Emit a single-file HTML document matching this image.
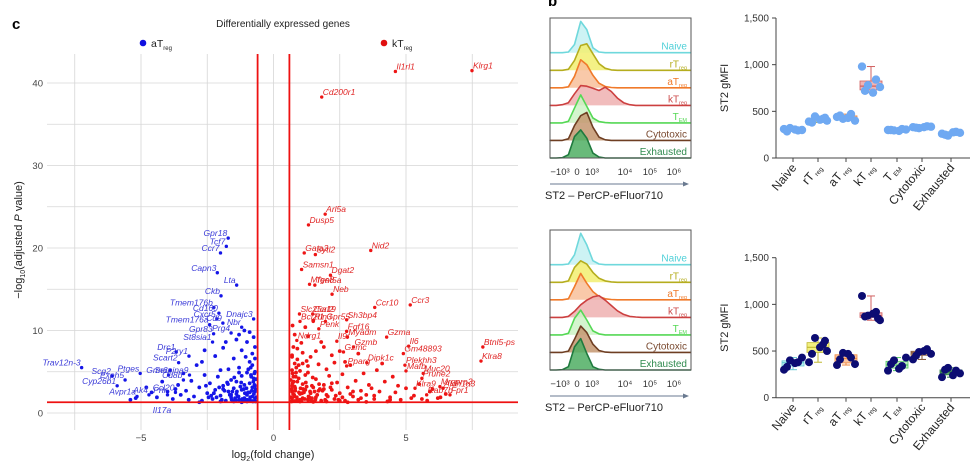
<!DOCTYPE html>
<html><head><meta charset="utf-8"><style>
html,body{margin:0;padding:0;background:#fff;}
svg{display:block;font-family:"Liberation Sans",sans-serif;}
</style></head><body>
<svg id="fig" width="973" height="469" viewBox="0 0 973 469" xmlns="http://www.w3.org/2000/svg">
<g id="volcano"></g>
<g id="hists"></g>
<g id="boxes"></g>
</svg>
<script>
// ---------- Volcano data ----------
const blueGenes = ["Gpr18","Tcf7","Ccr7","Capn3","Lta","Ckb","Tmem176b","Cd160","Cxcr5","Dnajc3","Tmem176a","Cd9","Nbr","Gpr83","Prg4","St8sia1","Drc1","P2ry1","Scart2","Trav12n-3","Scg2","Ptges","Grm6","Serpina9","Exph5","Cd8b","Cyp26b1","Ak4","Avpr1a","Prlr","Ccl20"];
const blueFC = [-1.71,-1.78,-2.0,-2.12,-1.39,-1.98,-2.25,-2.06,-2.14,-0.75,-2.41,-1.91,-1.2,-2.26,-1.6,-2.3,-3.67,-3.19,-3.58,-7.24,-6.1,-5.03,-3.96,-3.17,-5.6,-3.4,-5.9,-4.7,-5.15,-4.0,-3.7];
const blueP = [21.2,20.2,19.4,17.0,15.5,14.2,12.8,12.1,11.4,11.4,10.7,10.9,10.4,9.6,9.7,8.6,7.4,6.9,6.1,5.5,4.5,4.8,4.6,4.6,4.0,4.0,3.3,2.2,2.0,2.2,2.5];
const redGenes = ["Il1rl1","Klrg1","Cd200r1","Arl5a","Dusp5","Nid2","Gata3","Sytl2","Samsn1","Dgat2","Mfge8","Tent5a","Neb","Ccr3","Ccr10","Ccrl2","Slc25a19","Gpr55","Sh3bp4","Rln3","Bcl2l1","Penk","Fgf16","Ndrg1","Il9r","Myadm","Gzma","Il6","Gzmb","Btnl5-ps","Gm48893","Gzmc","Klra8","Dipk1c","Plekhh3","Pparg","Mafb","Muc20","Prune2","Mrgpra3","Klra9","Aldh1a3","Rab7b","Fpr1"];
const redFC = [4.6,7.49,1.82,1.95,1.32,3.67,1.16,1.58,1.06,2.15,1.36,1.56,2.21,5.16,3.82,1.48,0.98,1.96,2.76,1.5,1.0,1.71,2.76,0.88,2.39,2.79,4.27,5.1,3.02,7.9,4.9,2.64,7.83,3.52,4.96,2.76,5.0,5.65,5.6,6.28,5.34,6.4,5.78,6.66];
const redP = [41.4,41.5,38.3,24.1,22.8,19.7,19.4,19.2,17.4,16.7,15.6,15.5,14.4,13.1,12.8,12.0,12.0,11.1,11.3,11.1,11.1,10.2,9.9,8.8,8.7,9.2,9.2,8.1,8.0,8.0,7.2,7.4,6.3,6.1,5.8,5.7,5.1,4.8,4.2,3.2,3.0,3.0,2.2,2.2];
const blueCloudFC = [-0.7,-0.8,-0.9,-0.7,-0.8,-1.0,-1.1,-0.9,-0.75,-0.7,-0.8,-0.7,-1.2,-1.3,-1.4,-1.1,-1.5,-1.6,-1.2,-1.0,-1.7,-1.8,-1.9,-2.0,-1.6,-1.3,-0.9,-0.8,-0.7,-0.75,-0.9,-1.0,-1.2,-1.4,-1.1,-1.5,-1.7,-2.1,-2.2,-2.3,-2.4,-2.5,-2.6,-2.7,-2.8,-2.9,-3.0,-3.1,-3.2,-3.3,-3.4,-3.5,-3.6,-3.8,-4.0,-4.2,-4.4,-4.6,-3.9,-2.7,-2.2,-1.9,-1.3,-1.8,-2.6,-1.4,-1.0,-1.2,-2.0,-2.8,-5.4,-5.2,-3.7,-4.8,-2.0,-1.5,-0.85,-0.95,-1.05,-0.72,-0.65,-0.68,-0.9,-1.15,-1.35,-0.78,-1.6,-2.15,-1.75,-0.66,
 -0.7,-0.74,-0.82,-0.88,-0.96,-1.02,-1.08,-1.18,-1.25,-1.32,-1.45,-1.55,-1.65,-1.85,-1.95,-2.05,-2.35,-2.45,-0.7,-0.76,-0.84,-0.92,-1.12,-1.22,-1.38,-1.48,-1.58,-1.72,-2.25,-2.55,-0.72,-0.86,-1.0,-1.3,-0.68,-0.8,-0.94,-1.06,-1.42,-1.9];
const blueCloudP = [1.5,2.0,1.6,2.6,3.1,2.2,1.8,3.6,4.2,5.0,5.8,6.6,2.8,1.6,2.3,3.4,3.0,1.9,4.5,4.9,2.6,1.5,3.3,2.1,4.0,5.5,6.2,7.2,8.0,9.2,9.8,8.6,7.6,8.9,10.0,6.6,5.3,4.4,2.8,1.7,3.6,2.4,4.6,1.5,3.1,5.8,2.0,3.9,1.6,2.7,4.8,2.2,3.4,1.7,2.6,3.8,1.9,2.5,5.2,6.2,6.9,7.9,9.5,8.6,7.6,3.8,1.4,1.3,1.4,1.3,1.6,1.8,2.9,3.1,5.2,1.4,4.6,5.3,6.8,3.4,1.9,2.9,2.5,1.5,2.0,1.4,2.2,1.9,3.7,4.1,
 1.8,2.3,2.7,1.9,2.5,3.0,2.4,1.7,3.2,2.0,1.8,2.6,2.2,2.7,1.6,3.1,2.1,1.9,3.3,3.8,4.4,1.5,2.9,3.7,2.6,4.3,1.6,3.5,2.4,3.3,4.8,5.5,1.6,4.9,1.4,1.45,1.5,1.55,1.5,2.9];
const redCloudFC = [0.7,0.8,0.9,0.7,0.8,1.0,1.1,0.9,0.75,0.7,0.8,0.7,0.75,0.72,0.8,1.2,1.3,1.4,1.1,1.5,1.6,1.2,1.0,1.7,1.8,1.9,2.0,1.6,1.3,0.9,1.1,1.4,1.7,2.1,2.2,2.3,2.4,2.5,2.6,2.7,2.8,2.9,3.0,3.1,3.2,3.3,3.4,3.5,3.6,3.8,4.0,4.2,4.4,4.6,4.8,5.0,5.3,5.6,5.9,6.2,6.5,3.9,2.7,2.2,1.9,1.3,1.8,2.5,1.2,1.5,1.0,1.5,2.0,2.8,3.5,4.3,4.7,3.7,2.0,0.85,0.95,1.05,0.72,1.25,1.6,2.3,3.2,4.1,4.5,5.5,6.0,0.66,0.68,0.78,0.88,1.15,1.35,0.65,0.95,1.45,1.75,2.05,2.45,0.7,0.82,
 0.7,0.74,0.82,0.88,0.96,1.02,1.08,1.18,1.25,1.32,1.45,1.55,1.65,1.85,1.95,2.15,2.35,2.6,2.9,3.3,0.7,0.76,0.84,0.92,1.12,1.22,1.38,1.48,1.58,1.72,0.72,0.86,1.0,1.3,0.68,0.8,0.94,1.06,1.42,1.9,2.2,2.5,3.0,3.8,4.4,5.2,5.8,6.3,1.1,0.9];
const redCloudP = [1.5,2.0,1.6,2.6,3.2,2.3,1.8,3.8,4.4,5.2,6.0,7.0,8.0,10.6,9.5,2.8,1.6,2.4,3.5,3.1,1.9,4.6,5.1,2.7,1.5,3.4,2.2,4.1,5.7,6.5,7.3,6.8,5.9,4.5,2.8,1.7,3.7,2.4,4.7,1.5,3.1,5.8,2.0,3.9,1.6,2.7,4.8,2.2,3.4,1.7,2.6,3.8,1.9,2.5,1.6,3.0,2.1,1.7,2.6,1.8,2.3,5.2,6.2,7.0,8.0,9.3,8.6,7.5,10.4,11.2,1.4,1.35,1.4,1.3,1.35,1.4,3.3,3.0,5.3,4.9,5.8,8.5,3.6,6.3,7.5,6.1,7.2,6.0,4.4,3.5,2.9,1.9,2.9,2.2,1.5,2.5,1.9,4.0,4.2,3.3,2.9,2.0,1.6,6.8,3.0,
 1.8,2.3,2.7,1.9,2.5,3.0,2.4,1.7,3.2,2.0,1.8,2.6,2.2,2.7,1.6,3.1,2.1,1.9,2.3,1.8,3.3,3.8,4.4,1.5,2.9,3.7,2.6,4.3,1.6,3.5,4.8,5.5,1.6,4.9,1.4,1.45,1.5,1.55,1.5,2.9,3.6,1.5,2.6,2.1,1.6,1.8,1.5,1.9,6.0,7.8];
const xTicks = [-5,0,5];
const yTicks = [0,10,20,30,40];

// ---------- Histogram data ----------
const histLabels = ["Naive","rT","aT","kT","T","Cytotoxic","Exhausted"];
const histSubs = ["","reg","reg","reg","EM","",""];
const histTopNaive = [0,0,0,0.02,0.25,0.95,0.7,0.15,0.02,0,0,0,0,0,0,0,0,0,0,0,0,0,0,0];
const histTopRT = [0,0,0,0.03,0.3,0.75,0.8,0.5,0.2,0.06,0.01,0,0,0,0,0,0,0,0,0,0,0,0,0];
const histTopAT = [0,0,0,0.03,0.35,0.85,0.7,0.38,0.14,0.04,0.01,0,0,0,0,0,0,0,0,0,0,0,0,0];
const histTopKT = [0,0,0.02,0.08,0.35,0.6,0.58,0.52,0.45,0.55,0.42,0.22,0.08,0.02,0,0,0,0,0,0,0,0,0,0];
const histTopTEM = [0,0,0,0.05,0.45,0.85,0.5,0.15,0.04,0.01,0,0,0,0,0,0,0,0,0,0,0,0,0,0];
const histTopCyto = [0,0,0,0.05,0.45,0.75,0.85,0.4,0.1,0.02,0,0,0,0,0,0,0,0,0,0,0,0,0,0];
const histTopExh = [0,0,0.01,0.1,0.65,0.85,0.6,0.15,0.03,0,0,0,0,0,0,0,0,0,0,0,0,0,0,0];
const histBotNaive = [0,0,0,0.02,0.3,0.95,0.6,0.12,0.02,0,0,0,0,0,0,0,0,0,0,0,0,0,0,0];
const histBotRT = [0,0,0,0.04,0.45,0.65,0.55,0.3,0.12,0.04,0.01,0,0,0,0,0,0,0,0,0,0,0,0,0];
const histBotAT = [0,0,0,0.03,0.4,0.8,0.5,0.25,0.1,0.03,0.01,0,0,0,0,0,0,0,0,0,0,0,0,0];
const histBotKT = [0,0,0,0.03,0.18,0.38,0.52,0.62,0.66,0.52,0.36,0.2,0.09,0.03,0.01,0,0,0,0,0,0,0,0,0];
const histBotTEM = [0,0,0,0.05,0.5,0.75,0.45,0.12,0.03,0,0,0,0,0,0,0,0,0,0,0,0,0,0,0];
const histBotCyto = [0,0,0,0.04,0.4,0.8,0.6,0.25,0.06,0.01,0,0,0,0,0,0,0,0,0,0,0,0,0,0];
const histBotExh = [0,0,0.01,0.1,0.7,0.95,0.5,0.1,0.02,0,0,0,0,0,0,0,0,0,0,0,0,0,0,0];
const histTicks = ["−10³","0","10³","10⁴","10⁵","10⁶"];

// ---------- Box plot data ----------
const boxCats = ["Naive","rT","aT","kT","T","Cytotoxic","Exhausted"];
const boxSubs = ["","reg","reg","reg","EM","",""];
const boxYTicks = [0,500,1000,1500];
const boxYTickLabels = ["0","500","1,000","1,500"];
const topNaive=[310,295,320,300,285,305], topRT=[390,420,445,400,380,410,430], topAT=[440,470,420,400,455,430], topKT=[980,840,780,760,720,700], topTEM=[300,310,295,305,300,290], topCyto=[330,340,320,335,325,330], topExh=[260,280,240,270,250,275];
const botNaive=[300,380,400,430,330,370], botRT=[380,570,640,500,470,540,610], botAT=[350,430,480,360,410,470], botKT=[1090,920,880,830,870,900,850], botTEM=[290,340,400,430,360,310], botCyto=[410,520,490,470,450,500], botExh=[220,290,320,260,300,240];

const NS="http://www.w3.org/2000/svg";
function mk(parent, tag, attrs, text){const e=document.createElementNS(NS,tag);for(const k in attrs)e.setAttribute(k,attrs[k]);if(text!==undefined)e.textContent=text;parent.appendChild(e);return e;}

// ---------- Volcano ----------
(function(){
const g=document.getElementById('volcano');
const X=v=>273.5+v*26.5, Y=v=>413-v*8.25;
const L=47,R=518,T=54,B=430;
let t=mk(g,'text',{x:12,y:29,'font-size':15,'font-weight':'bold'},'c');

t=mk(g,'text',{x:283,y:27,'font-size':10,'text-anchor':'middle',fill:'#222'},'Differentially expressed genes');

let lg=mk(g,'g',{});
mk(lg,'circle',{cx:143,cy:43,r:3.3,fill:'#1010e0'});
let lt=mk(lg,'text',{x:151,y:47,'font-size':10.5,fill:'#222'});lt.innerHTML='aT<tspan font-size="6" dy="3">reg</tspan>';
lg=mk(g,'g',{});
mk(lg,'circle',{cx:384,cy:43,r:3.3,fill:'#e01010'});
lt=mk(lg,'text',{x:392,y:47,'font-size':10.5,fill:'#222'});lt.innerHTML='kT<tspan font-size="6" dy="3">reg</tspan>';
const grid=mk(g,'g',{stroke:'#d6d6d6','stroke-width':0.8});
for(let v=-7.5;v<=7.5;v+=2.5)mk(grid,'line',{x1:X(v),x2:X(v),y1:T,y2:B});
for(let v=0;v<=40;v+=5)mk(grid,'line',{x1:L,x2:R,y1:Y(v),y2:Y(v)});
yTicks.forEach(v=>{const e=mk(g,'text',{x:43,y:Y(v)+3.5,'font-size':9.5,'text-anchor':'end',fill:'#444'},String(v));});
xTicks.forEach(v=>{const e=mk(g,'text',{x:X(v),y:441,'font-size':9.5,'text-anchor':'middle',fill:'#444'},v<0?'−'+(-v):String(v));});
let at=mk(g,'text',{x:273,y:458,'font-size':11,'text-anchor':'middle',fill:'#222'});at.innerHTML='log<tspan font-size="7" dy="3">2</tspan><tspan dy="-3">(fold change)</tspan>';

at=mk(g,'text',{transform:'translate(22,240) rotate(-90)','font-size':11,'text-anchor':'middle',fill:'#222'});at.innerHTML='−log<tspan font-size="7" dy="3">10</tspan><tspan dy="-3">(adjusted </tspan><tspan font-style="italic">P</tspan> value)';

const pts=mk(g,'g',{});
blueCloudFC.forEach((v,i)=>{const c=mk(pts,'circle',{cx:X(v),cy:Y(blueCloudP[i]),r:1.9,fill:'#1515e8'});

});
redCloudFC.forEach((v,i)=>{const c=mk(pts,'circle',{cx:X(v),cy:Y(redCloudP[i]),r:1.9,fill:'#ee1515'});

});
blueGenes.forEach((n,i)=>{const c=mk(pts,'circle',{cx:X(blueFC[i]),cy:Y(blueP[i]),r:1.7,fill:'#1515e8'});


const e=mk(pts,'text',{x:X(blueFC[i])-1,y:Y(blueP[i])-2,'font-size':8.5,'font-style':'italic','text-anchor':'end',fill:'#3a3ad8'},n);

});
redGenes.forEach((n,i)=>{const c=mk(pts,'circle',{cx:X(redFC[i]),cy:Y(redP[i]),r:1.7,fill:'#ee1515'});


const e=mk(pts,'text',{x:X(redFC[i])+1,y:Y(redP[i])-2,'font-size':8.5,'font-style':'italic',fill:'#e02525'},n);

});
const il=mk(g,'text',{x:162,y:413,'font-size':8.5,'font-style':'italic','text-anchor':'middle',fill:'#3a3ad8'},'Il17a');

const th=mk(g,'g',{stroke:'#ee1111','stroke-width':1.8});
mk(th,'line',{x1:X(-0.6),x2:X(-0.6),y1:T,y2:B});
mk(th,'line',{x1:X(0.6),x2:X(0.6),y1:T,y2:B});
mk(th,'line',{x1:L,x2:R,y1:Y(1.3),y2:Y(1.3)});
})();

// ---------- Histograms ----------
(function(){
const g=document.getElementById('hists');
const lab=mk(g,'text',{x:548,y:6,'font-size':15,'font-weight':'bold'},'b');

const strokes=['#6fd8dc','#b5ad1e','#f07a2a','#cc4040','#55d855','#6e3e22','#1f7a3e'];
const fills=['#c4f1f2','#f2ef70','#f8c09a','#eeb0b0','#cdf3c6','#c49670','#4fae63'];
const labCols=['#4fd0d8','#b5ad1e','#f07a2a','#cc4b4b','#55d855','#7a4a30','#2f8a4e'];
function panel(top,data,name){
 const p=mk(g,'g',{});
 const L=550,R=691,rowH=17.55,base0=top+34.7;
 const n=data[0].length, step=(R-L)/(n-1), scale=33;
 data.forEach((arr,r)=>{
  const b=base0+r*rowH;
  let d='M'+L+','+b;
  arr.forEach((v,i)=>{d+=' L'+(L+i*step).toFixed(1)+','+(b-v*scale).toFixed(1);});
  const f=mk(p,'path',{d:d+' L'+R+','+b+' Z',fill:fills[r],'fill-opacity':0.85,stroke:'none'});
  
  const l=mk(p,'path',{d:d,fill:'none',stroke:strokes[r],'stroke-width':1.6,'stroke-linejoin':'round'});
  
  const t=mk(p,'text',{x:687,y:b-3,'font-size':10,'text-anchor':'end',fill:labCols[r]});
  t.innerHTML=histLabels[r]+(histSubs[r]?'<tspan font-size="5.5" dy="2">'+histSubs[r]+'</tspan>':'');
  
 });
 mk(p,'rect',{x:L,y:top,width:R-L,height:base0+6*rowH-top,fill:'none',stroke:'#555','stroke-width':1});
 const tx=[560,577,592,625,650,674];
 histTicks.forEach((s,i)=>{const e=mk(p,'text',{x:tx[i],y:base0+6*rowH+17,'font-size':9.5,'text-anchor':'middle',fill:'#333'},s);
 });
 const ay=base0+6*rowH+26;
 mk(p,'line',{x1:550,x2:685,y1:ay,y2:ay,stroke:'#6a7a90','stroke-width':1});
 mk(p,'path',{d:`M689,${ay} L683,${ay-2.5} L683,${ay+2.5} Z`,fill:'#6a7a90'});
 const xt=mk(p,'text',{x:545,y:ay+15,'font-size':11,fill:'#222'},'ST2 – PerCP-eFluor710');
 
}
panel(18,[histTopNaive,histTopRT,histTopAT,histTopKT,histTopTEM,histTopCyto,histTopExh],'histogram-top');
panel(230,[histBotNaive,histBotRT,histBotAT,histBotKT,histBotTEM,histBotCyto,histBotExh],'histogram-bottom');
})();

// ---------- Box plots ----------
(function(){
const g=document.getElementById('boxes');
const centers=[793,818,846,871,897,922,951];
const boxFill=['#bff0f2','#f2ef80','#f8c29e','#f0b4b4','#bfeec0','#c8a080','#5aa86a'];
const boxStroke=['#66c8d0','#c0b830','#f08840','#d06060','#50c860','#805030','#2a7a40'];
function q(a,p){const s=[...a].sort((x,y)=>x-y);const i=(s.length-1)*p,lo=Math.floor(i),hi=Math.ceil(i);return s[lo]+(s[hi]-s[lo])*(i-lo);}
function panel(y0,y1500,data,ptCol,ptR,name){
 const p=mk(g,'g',{});
 const Y=v=>y0-(v/1500)*(y0-y1500);
 mk(p,'line',{x1:776,x2:776,y1:y1500,y2:y0,stroke:'#444','stroke-width':1});
 mk(p,'line',{x1:776,x2:970,y1:y0,y2:y0,stroke:'#444','stroke-width':1});
 boxYTicks.forEach((v,i)=>{mk(p,'line',{x1:772,x2:776,y1:Y(v),y2:Y(v),stroke:'#444'});
  const e=mk(p,'text',{x:769,y:Y(v)+3.5,'font-size':10,'text-anchor':'end',fill:'#333'},boxYTickLabels[i]);
  });
 const yt=mk(p,'text',{transform:`translate(728,${(y0+y1500)/2}) rotate(-90)`,'font-size':11,'text-anchor':'middle',fill:'#222'},'ST2 gMFI');
 
 data.forEach((arr,i)=>{
  const c=centers[i];
  mk(p,'line',{x1:c,x2:c,y1:y0,y2:y0+4,stroke:'#444'});
  const q1=q(arr,0.25),q3=q(arr,0.75),md=q(arr,0.5),mn=Math.min(...arr),mx=Math.max(...arr);
  const bx=mk(p,'g',{});
  mk(bx,'line',{x1:c,x2:c,y1:Y(mx),y2:Y(mn),stroke:boxStroke[i],'stroke-width':1});
  mk(bx,'line',{x1:c-4,x2:c+4,y1:Y(mx),y2:Y(mx),stroke:boxStroke[i]});
  mk(bx,'line',{x1:c-4,x2:c+4,y1:Y(mn),y2:Y(mn),stroke:boxStroke[i]});
  mk(bx,'rect',{x:c-11,y:Y(q3),width:22,height:Math.max(1,Y(q1)-Y(q3)),fill:boxFill[i],stroke:boxStroke[i],'stroke-width':0.8});
  mk(bx,'line',{x1:c-11,x2:c+11,y1:Y(md),y2:Y(md),stroke:boxStroke[i],'stroke-width':1.2});
  const off=[-9,5,-3,9,-6,2,7];
  arr.forEach((v,j)=>{const d=mk(bx,'circle',{cx:c+off[j%off.length],cy:Y(v),r:ptR,fill:ptCol});
   
   });
  const t=mk(p,'text',{transform:`translate(${c+4},${y0+10}) rotate(-50)`,'font-size':12,'text-anchor':'end',fill:'#222'});
  t.innerHTML=boxCats[i]+(boxSubs[i]?'<tspan font-size="6.5" dy="2"> '+boxSubs[i]+'</tspan>':'');
  
 });
}
panel(158,18,[topNaive,topRT,topAT,topKT,topTEM,topCyto,topExh],'#6fa9f2',4.2,'box-plot-top');
panel(397.7,257.7,[botNaive,botRT,botAT,botKT,botTEM,botCyto,botExh],'#0c0c72',4.0,'box-plot-bottom');
})();
</script>
</body></html>
